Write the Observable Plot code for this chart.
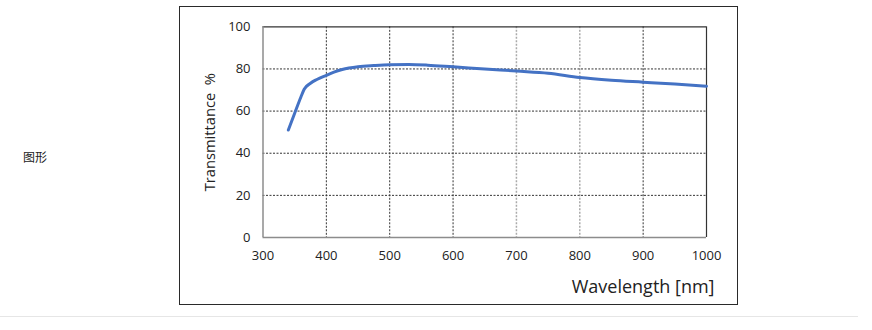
<!DOCTYPE html>
<html><head><meta charset="utf-8">
<script src="https://cdn.jsdelivr.net/npm/d3@7"></script>
<script src="https://cdn.jsdelivr.net/npm/@observablehq/plot@0.6"></script>
<style>
body{margin:0;background:#fff;width:872px;height:330px;overflow:hidden;position:relative;font-family:"Open Sans",sans-serif;}
#box{position:absolute;left:179px;top:6px;width:557px;height:297px;border:1.5px solid #2a2a2a;}
#sep{position:absolute;left:0;top:316px;width:858px;height:0;border-top:1.5px solid #e6e6e6;}
#cap{position:absolute;left:23px;top:148px;font-family:"Noto Sans CJK SC";font-size:12px;color:#222;}
#chart{position:absolute;left:0;top:0;}
</style></head>
<body>
<div id="cap">图形</div>
<div id="box"></div>
<div id="sep"></div>
<div id="chart"></div>
<script>
const wavelength = [340, 350, 360, 365, 375, 385, 400, 412, 425, 450, 475, 500, 530, 560, 600, 650, 700, 750, 800, 850, 900, 950, 1000];
const transmittance = [51, 59, 66.8, 70.4, 73.2, 75.0, 77.0, 78.5, 79.7, 81.0, 81.6, 82.0, 82.1, 81.8, 81.0, 80.0, 79.0, 78.0, 75.9, 74.6, 73.7, 72.8, 71.8];
const xTicks = [300, 400, 500, 600, 700, 800, 900, 1000];
const yTicks = [0, 20, 40, 60, 80, 100];
const gridXDark = [400, 500, 600, 900];
const gridXLight = [700, 800];
const gridY = [20, 40, 60, 80];
const xLabel = "Wavelength [nm]";
const yLabel = "Transmittance  %";

const data = wavelength.map((w, i) => ({w, t: transmittance[i]}));

const chart = Plot.plot({
  width: 872, height: 330,
  marginLeft: 262.5, marginRight: 166, marginTop: 26.3, marginBottom: 93,
  style: {fontFamily: "Open Sans", fontSize: "13px", color: "#222", background: "transparent", overflow: "visible"},
  x: {domain: [300, 1000]},
  y: {domain: [0, 100]},
  marks: [
    Plot.ruleX(gridXDark, {stroke: "#333", strokeDasharray: "2,1.5", strokeWidth: 1}),
    Plot.ruleX(gridXLight, {stroke: "#aaa", strokeDasharray: "2,1.5", strokeWidth: 1.5}),
    Plot.ruleY(gridY, {stroke: "#333", strokeDasharray: "2,1.5", strokeWidth: 1}),
    Plot.ruleY([100], {stroke: "#333", strokeWidth: 1.2}),
    Plot.ruleX([1000], {stroke: "#333", strokeWidth: 1.2}),
    Plot.ruleX([300], {stroke: "#8c8c8c", strokeWidth: 1.5}),
    Plot.ruleY([0], {stroke: "#8c8c8c", strokeWidth: 1.5}),
    Plot.axisX({ticks: xTicks, tickFormat: d => String(d), tickSize: 0, tickPadding: 13, label: null, fill: "#222"}),
    Plot.axisY({ticks: yTicks, tickFormat: d => String(d), tickSize: 0, tickPadding: 12.5, label: null, fill: "#222"}),
    Plot.line(data, {x: "w", y: "t", stroke: "#4472C4", strokeWidth: 3, curve: "monotone-x"}),
    Plot.text([yLabel], {frameAnchor: "left", textAnchor: "middle", rotate: -90, dx: -52.5, fontSize: 14.7, fill: "#222"}),
    Plot.text([xLabel], {frameAnchor: "bottom-right", textAnchor: "end", lineAnchor: "middle", dx: 8, dy: 50, fontSize: 18, fill: "#222"})
  ]
});
document.getElementById("chart").appendChild(chart);
</script>
</body></html>
